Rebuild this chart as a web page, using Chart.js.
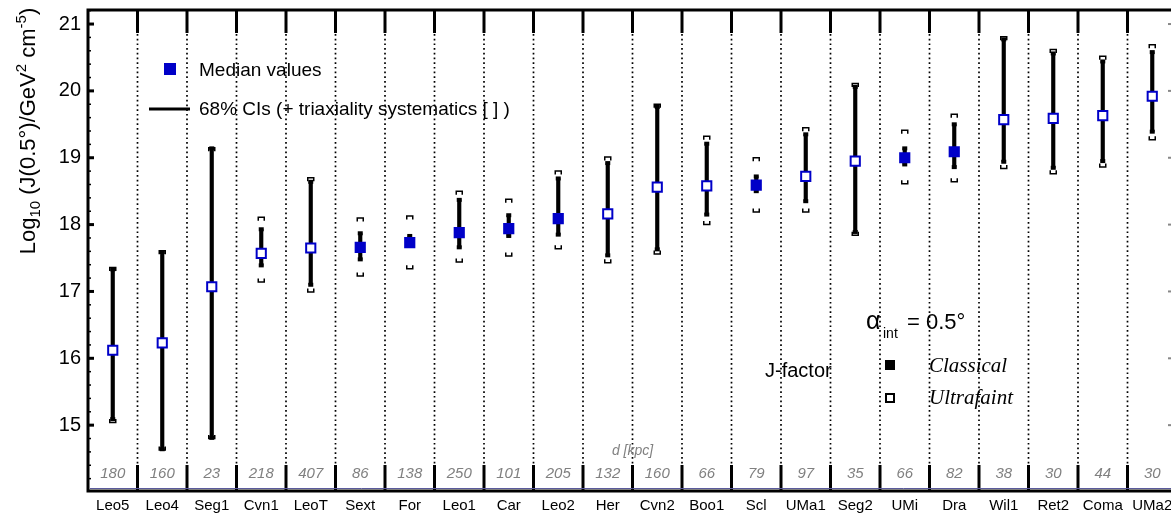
<!DOCTYPE html>
<html>
<head>
<meta charset="utf-8">
<script src="https://cdn.jsdelivr.net/npm/chart.js@4.4.1/dist/chart.umd.min.js"></script>
<style>
html,body{margin:0;padding:0;background:#fff;overflow:hidden;}
#wrap{position:relative;width:1180px;height:516px;}
</style>
</head>
<body>
<div id="wrap"><canvas id="chart" width="1180" height="516"></canvas></div>
<script>
const galaxies = ["Leo5","Leo4","Seg1","Cvn1","LeoT","Sext","For","Leo1","Car","Leo2","Her",
                  "Cvn2","Boo1","Scl","UMa1","Seg2","UMi","Dra","Wil1","Ret2","Coma","UMa2"];
const distances = [180,160,23,218,407,86,138,250,101,205,132,160,66,79,97,35,66,82,38,30,44,30];
const classical = [false,false,false,false,false,true,true,true,true,true,false,
                   false,false,true,false,false,true,true,false,false,false,false];
const median  = [16.12,16.23,17.07,17.57,17.65,17.66,17.73,17.88,17.94,18.09,18.16,
                 18.56,18.58,18.59,18.72,18.95,19.00,19.09,19.57,19.59,19.63,19.92];
const ciLow   = [15.09,14.64,14.81,17.39,17.10,17.48,17.68,17.66,17.83,17.85,17.54,
                 17.63,18.15,18.50,18.35,17.89,18.90,18.86,18.94,18.85,18.95,19.39];
const ciHigh  = [17.33,17.59,19.14,17.93,18.64,17.87,17.83,18.37,18.14,18.69,18.92,
                 19.76,19.21,18.72,19.35,20.06,19.14,19.50,20.77,20.56,20.44,20.58];
const sysLow  = [15.04,14.63,14.80,17.14,16.99,17.23,17.34,17.44,17.53,17.64,17.43,
                 17.56,18.00,18.19,18.19,17.84,18.61,18.64,18.84,18.76,18.86,19.27];
const sysHigh = [17.36,17.61,19.15,18.11,18.70,18.10,18.13,18.50,18.38,18.80,19.01,
                 19.80,19.32,19.00,19.45,20.11,19.41,19.65,20.81,20.62,20.52,20.69];
const yMin = 14.03, yMax = 21.21;

const BLUE = "#0000c8";
const SANS = '"Liberation Sans", Arial, sans-serif';
const SERIF = '"Liberation Serif", "Times New Roman", serif';

function drawYTitle(ctx, cx, cy) {
  const parts = [
    ["Log", 22, 0], ["10", 15, 5], [" (J(0.5\u00b0)/GeV", 22, 0], ["2", 15, -9],
    [" cm", 22, 0], ["-5", 15, -9], [")", 22, 0]
  ];
  let total = 0;
  parts.forEach(p => { ctx.font = p[1] + "px " + SANS; total += ctx.measureText(p[0]).width; });
  ctx.save();
  ctx.translate(cx, cy);
  ctx.rotate(-Math.PI / 2);
  ctx.fillStyle = "#000";
  ctx.textAlign = "left";
  ctx.textBaseline = "alphabetic";
  let x = -total / 2;
  parts.forEach(p => {
    ctx.font = p[1] + "px " + SANS;
    ctx.fillText(p[0], x, p[2]);
    x += ctx.measureText(p[0]).width;
  });
  ctx.restore();
}

const decor = {
  id: "decor",
  beforeDatasetsDraw(chart) {
    const {ctx, chartArea: a, scales: {x, y}} = chart;
    ctx.save();
    const n = galaxies.length;
    const bounds = [];
    for (let i = 1; i < n; i++) bounds.push((x.getPixelForValue(i - 1) + x.getPixelForValue(i)) / 2);

    // dotted separators
    ctx.strokeStyle = "#000";
    ctx.lineWidth = 1.7;
    ctx.setLineDash([1.7, 3.0]);
    bounds.forEach(px => {
      ctx.beginPath(); ctx.moveTo(px, a.top + 24); ctx.lineTo(px, a.bottom - 25); ctx.stroke();
    });
    ctx.setLineDash([]);

    // thick ticks at top and bottom
    ctx.lineWidth = 3;
    bounds.forEach(px => {
      ctx.beginPath(); ctx.moveTo(px, a.top); ctx.lineTo(px, a.top + 23); ctx.stroke();
      ctx.beginPath(); ctx.moveTo(px, a.bottom - 25); ctx.lineTo(px, a.bottom); ctx.stroke();
    });

    // distances
    ctx.fillStyle = "#808080";
    ctx.font = "italic 15px " + SANS;
    ctx.textAlign = "center";
    ctx.textBaseline = "middle";
    distances.forEach((d, i) => ctx.fillText(String(d), x.getPixelForValue(i), 474));
    ctx.font = "italic 14px " + SANS;
    ctx.fillText("d [kpc]", (x.getPixelForValue(10) + x.getPixelForValue(11)) / 2, 451);

    // CI caps and systematics brackets
    ctx.fillStyle = "#000";
    ctx.lineWidth = 1.5;
    galaxies.forEach((g, i) => {
      const px = x.getPixelForValue(i);
      const yl = y.getPixelForValue(ciLow[i]), yh = y.getPixelForValue(ciHigh[i]);
      ctx.fillRect(px - 2.5, yh - 2, 5, 4);
      ctx.fillRect(px - 2.5, yl - 2, 5, 4);
      const sh = y.getPixelForValue(sysHigh[i]), sl = y.getPixelForValue(sysLow[i]);
      ctx.beginPath();
      ctx.moveTo(px - 3, sh + 3.5); ctx.lineTo(px - 3, sh); ctx.lineTo(px + 3, sh); ctx.lineTo(px + 3, sh + 3.5);
      ctx.stroke();
      ctx.beginPath();
      ctx.moveTo(px - 3, sl - 3.5); ctx.lineTo(px - 3, sl); ctx.lineTo(px + 3, sl); ctx.lineTo(px + 3, sl - 3.5);
      ctx.stroke();
    });
    ctx.restore();
  },
  afterDraw(chart) {
    const {ctx, chartArea: a, scales: {y}} = chart;
    ctx.save();
    // frame
    ctx.strokeStyle = "#000";
    ctx.lineWidth = 3;
    ctx.strokeRect(a.left, a.top, a.right - a.left, a.bottom - a.top + 1);
    ctx.strokeStyle = "#5a5a9c";
    ctx.lineWidth = 1;
    ctx.beginPath(); ctx.moveTo(a.left + 2, a.bottom - 1.5); ctx.lineTo(a.right - 2, a.bottom - 1.5); ctx.stroke();

    // inward y ticks on both sides
    for (let k = 71; k <= 106; k++) {
      const v = k / 5;
      const py = y.getPixelForValue(v);
      const major = k % 5 === 0;
      ctx.strokeStyle = "#000";
      ctx.lineWidth = major ? 3 : 1.5;
      ctx.beginPath(); ctx.moveTo(a.left, py); ctx.lineTo(a.left + (major ? 6 : 3), py); ctx.stroke();
      if (major) {
        ctx.strokeStyle = "#888";
        ctx.lineWidth = 2;
        ctx.beginPath(); ctx.moveTo(a.right - 9, py); ctx.lineTo(a.right, py); ctx.stroke();
      }
    }

    // legend top-left
    ctx.fillStyle = BLUE;
    ctx.fillRect(164, 63, 12, 12);
    ctx.strokeStyle = "#000";
    ctx.lineWidth = 3;
    ctx.beginPath(); ctx.moveTo(149, 109); ctx.lineTo(190, 109); ctx.stroke();
    ctx.fillStyle = "#000";
    ctx.font = "19px " + SANS;
    ctx.textAlign = "left";
    ctx.textBaseline = "middle";
    ctx.fillText("Median values", 199, 71);
    ctx.fillText("68% CIs (+ triaxiality systematics [ ] )", 199, 110);

    // legend right
    ctx.textBaseline = "alphabetic";
    ctx.font = "25px " + SANS;
    ctx.fillText("\u03b1", 866, 329);
    ctx.font = "14px " + SANS;
    ctx.fillText("int", 883, 338);
    ctx.font = "22px " + SANS;
    ctx.fillText("= 0.5\u00b0", 907, 329);
    ctx.textBaseline = "middle";
    ctx.font = "20px " + SANS;
    ctx.fillText("J-factor", 765, 371);
    ctx.fillRect(885, 360, 10, 10);
    ctx.lineWidth = 2;
    ctx.strokeRect(886, 394, 8, 8);
    ctx.font = "italic 21px " + SERIF;
    ctx.fillText("Classical", 929, 366);
    ctx.fillText("Ultrafaint", 929, 398);

    drawYTitle(ctx, 35, 131);
    ctx.restore();
  }
};

Chart.defaults.font.family = SANS;
Chart.defaults.color = "#000";

const chart = new Chart(document.getElementById("chart"), {
  data: {
    labels: galaxies,
    datasets: [
      {
        type: "line",
        label: "Median values",
        data: median,
        showLine: false,
        pointStyle: "rect",
        pointRadius: 6.5,
        pointHoverRadius: 6.5,
        pointBorderWidth: 2,
        pointBorderColor: BLUE,
        pointBackgroundColor: classical.map(c => c ? BLUE : "#fff"),
        order: 0
      },
      {
        type: "bar",
        label: "68% CIs",
        data: ciLow.map((lo, i) => [lo, ciHigh[i]]),
        backgroundColor: "#000",
        barThickness: 3.5,
        order: 1
      }
    ]
  },
  options: {
    responsive: false,
    animation: false,
    devicePixelRatio: 1,
    layout: {autoPadding: false, padding: {top: 10, right: 3, left: 0, bottom: 0}},
    plugins: {legend: {display: false}, tooltip: {enabled: false}},
    scales: {
      x: {
        type: "category",
        offset: true,
        grid: {display: false, drawTicks: false},
        border: {display: false},
        ticks: {font: {size: 15}, color: "#000", padding: 7, maxRotation: 0, autoSkip: false},
        afterFit: s => { s.height = 26; s.paddingLeft = 0; s.paddingRight = 0; }
      },
      y: {
        min: yMin,
        max: yMax,
        grid: {display: false, drawTicks: false},
        border: {display: false},
        ticks: {
          stepSize: 1,
          includeBounds: false,
          font: {size: 20},
          color: "#000",
          padding: 7,
          callback: v => Number.isInteger(v) ? v : ""
        },
        afterFit: s => { s.width = 88; s.paddingTop = 0; s.paddingBottom = 0; }
      }
    }
  },
  plugins: [decor]
});
</script>
</body>
</html>
